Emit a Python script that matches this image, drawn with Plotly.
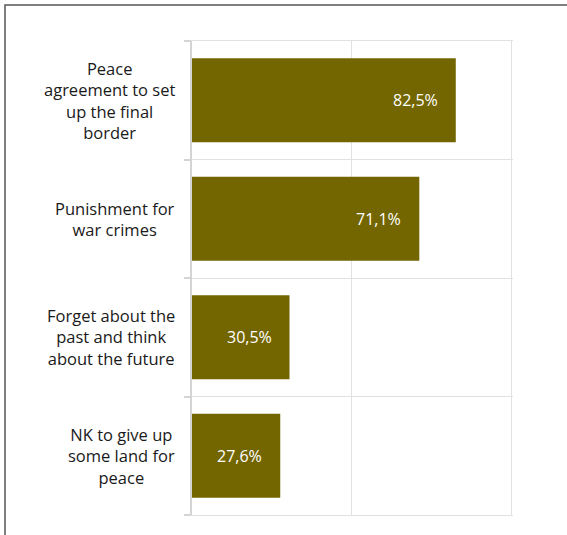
import plotly.graph_objects as go

categories = [
    "Peace<br>agreement to set<br>up the final<br>border",
    "Punishment for<br>war crimes",
    "Forget about the<br>past and think<br>about the future",
    "NK to give up<br>some land for<br>peace",
]
values = [82.5, 71.1, 30.5, 27.6]
value_labels = [f"{v:.1f}".replace(".", ",") + "%" for v in values]

BAR = "#736600"
GRID = "#e1e1e1"
AXIS = "#d4d4d4"
FONT = "Open Sans"

W, H = 567, 535
L, R, T, B = 192, 54, 41, 20
pw, ph = W - L - R, H - T - B

fig = go.Figure()
fig.add_trace(go.Bar(
    x=values, y=list(range(len(categories))), orientation="h",
    marker=dict(color=BAR, line=dict(width=0)),
    hoverinfo="skip",
))

annotations = []
for i, (cat, v, lab) in enumerate(zip(categories, values, value_labels)):
    annotations.append(dict(
        x=-(192 - 176.5) / pw, xref="paper", y=i, yref="y",
        text=cat, showarrow=False, xanchor="right", yanchor="middle", align="center",
        font=dict(family=FONT, size=16.5, color="#1a1a1a"),
    ))
    annotations.append(dict(
        x=v, xref="x", y=i, yref="y", text=lab, showarrow=False,
        xanchor="right", yanchor="middle", xshift=-16,
        font=dict(family=FONT, size=16, color="white"),
    ))

fig.update_layout(
    width=W, height=H,
    margin=dict(l=L, r=R, t=T, b=B, pad=0),
    paper_bgcolor="white", plot_bgcolor="white",
    bargap=0.29, showlegend=False,
    xaxis=dict(range=[0, 100.4], tickvals=[50, 100], showticklabels=False, showgrid=True,
               gridcolor=GRID, gridwidth=1, zeroline=False,
               showline=True, mirror=True, linecolor=GRID, linewidth=1, fixedrange=True),
    yaxis=dict(range=[3.5, -0.5], tickvals=[-0.5, 0.5, 1.5, 2.5, 3.5], showticklabels=False,
               showgrid=True, gridcolor=GRID, gridwidth=1, zeroline=False,
               showline=True, linecolor=AXIS, linewidth=2,
               ticks="outside", ticklen=6, tickwidth=2, tickcolor=AXIS, fixedrange=True),
    annotations=annotations,
    shapes=[dict(type="rect", xref="paper", yref="paper",
                 x0=(5 - L) / pw, x1=(W + 20 - L) / pw,
                 y0=(H - B - (H + 20)) / ph, y1=(H - B - 5) / ph,
                 line=dict(color="#555555", width=1.5), fillcolor="rgba(0,0,0,0)", layer="above")],
)

fig.write_html("out.html", config={"displayModeBar": False},
               post_script="document.body.style.margin='0px';")
